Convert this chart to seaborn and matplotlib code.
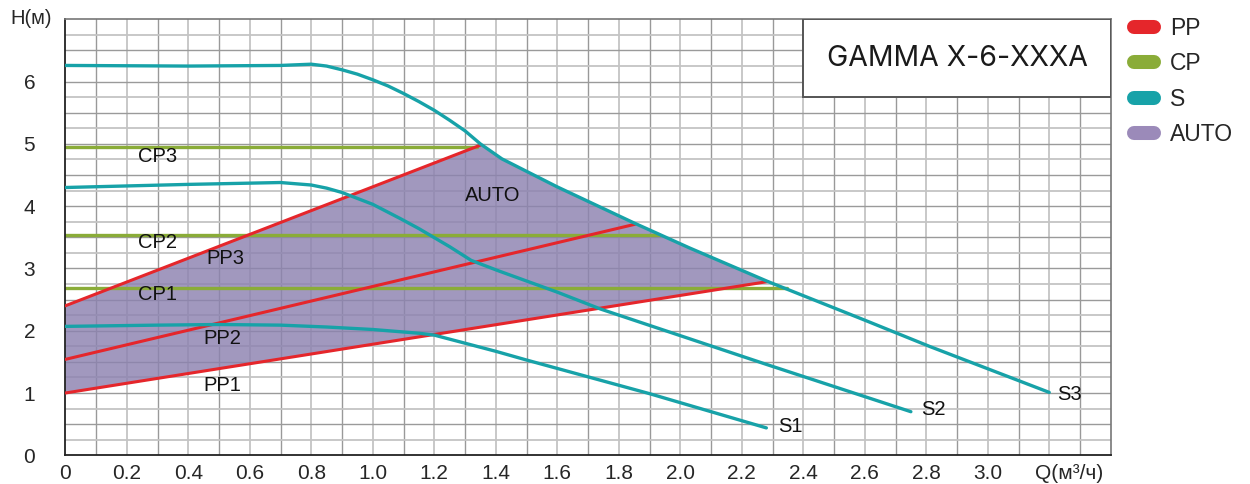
import numpy as np
import pandas as pd
import seaborn as sns
import matplotlib.pyplot as plt
from matplotlib.lines import Line2D
from matplotlib.patches import Rectangle
from matplotlib.ticker import MultipleLocator

# pump curves: Q (m3/h), H (m)
s1_q = [0, 0.3, 0.5, 0.7, 0.85, 1.0, 1.1, 1.15, 1.2, 1.3, 1.4, 1.5, 1.9, 2.28]
s1_h = [2.07, 2.09, 2.10, 2.09, 2.06, 2.02, 1.98, 1.96, 1.93, 1.80, 1.67, 1.53, 0.99, 0.44]
s2_q = [0, 0.4, 0.7, 0.8, 0.85, 0.9, 1.0, 1.09, 1.15, 1.25, 1.32, 1.41, 1.6, 1.74, 2.28, 2.75]
s2_h = [4.30, 4.35, 4.38, 4.34, 4.29, 4.22, 4.03, 3.80, 3.64, 3.35, 3.13, 2.96, 2.62, 2.35, 1.46, 0.70]
s3_q = [0, 0.4, 0.7, 0.75, 0.8, 0.85, 0.9, 0.95, 1.0, 1.05, 1.1, 1.15, 1.2, 1.25, 1.3,
        1.35, 1.42, 1.5, 1.6, 1.85, 2.03, 2.285, 2.6, 2.81, 3.2]
s3_h = [6.26, 6.25, 6.26, 6.27, 6.28, 6.25, 6.19, 6.12, 6.03, 5.93, 5.81, 5.68, 5.54, 5.38, 5.21,
        5.0, 4.76, 4.56, 4.31, 3.73, 3.33, 2.79, 2.17, 1.75, 1.01]

# proportional pressure lines (straight)
pp_names = ["PP1", "PP2", "PP3"]
pp_h0 = [1.0, 1.54, 2.40]
pp_q1 = [2.285, 1.853, 1.35]
pp_h1 = [2.79, 3.71, 4.98]

# constant pressure lines
cp_names = ["CP1", "CP2", "CP3"]
cp_h = [2.69, 3.53, 4.95]
cp_q1 = [2.347, 1.935, 1.338]

x_ticks = [0, 0.2, 0.4, 0.6, 0.8, 1.0, 1.2, 1.4, 1.6, 1.8, 2.0, 2.2, 2.4, 2.6, 2.8, 3.0, 3.265]
x_labels = ["0", "0.2", "0.4", "0.6", "0.8", "1.0", "1.2", "1.4", "1.6", "1.8",
            "2.0", "2.2", "2.4", "2.6", "2.8", "3.0", "Q(м³/ч)"]

RED = "#e5262b"
GREEN = "#8aac38"
TEAL = "#17a2a8"
PURPLE = "#8c82b0"

sns.set_style("white")
plt.rcParams["font.family"] = ["Liberation Sans", "DejaVu Sans"]

fig = plt.figure(figsize=(12.5, 4.84), dpi=100)
ax = fig.add_axes([0.0522, 0.0593, 0.8364, 0.9007])

# grid
for v in np.arange(0.1, 3.4, 0.1):
    even = round(v * 10) % 2 == 0
    ax.axvline(v, color="#c8c8c8" if even else "#999999", lw=1.4 if even else 1.0, zorder=0)
for v in np.arange(0.25, 7.0, 0.25):
    half = round(v * 4) % 2 == 0
    ax.axhline(v, color="#9a9a9a" if half else "#c4c4c4", lw=1.0 if half else 1.3, zorder=0)

# AUTO area
auto_q = [0, pp_q1[0]] + [q for q in s3_q[::-1] if 1.35 < q < 2.285] + [pp_q1[2], 0]
auto_h = [pp_h0[0], pp_h1[0]] + [h for q, h in zip(s3_q[::-1], s3_h[::-1]) if 1.35 < q < 2.285] + [pp_h1[2], pp_h0[2]]
ax.fill(auto_q, auto_h, color=PURPLE, alpha=0.82, lw=0, zorder=1)

for name, h, q1 in zip(cp_names, cp_h, cp_q1):
    sns.lineplot(x=[0, q1], y=[h, h], color=GREEN, lw=2.4, ax=ax, zorder=2)

for name, h0, q1, h1 in zip(pp_names, pp_h0, pp_q1, pp_h1):
    sns.lineplot(x=[0, q1], y=[h0, h1], color=RED, lw=2.2, ax=ax, zorder=3)

for q, h in [(s1_q, s1_h), (s2_q, s2_h), (s3_q, s3_h)]:
    df = pd.DataFrame({"Q": q, "H": h})
    sns.lineplot(data=df, x="Q", y="H", color=TEAL, lw=2.4, ax=ax, zorder=4,
                 estimator=None, sort=False)

labels = [("CP3", 0.30, 4.79), ("CP2", 0.30, 3.42), ("CP1", 0.30, 2.59),
          ("PP3", 0.52, 3.16), ("PP2", 0.51, 1.87), ("PP1", 0.51, 1.12),
          ("AUTO", 1.39, 4.17), ("S1", 2.357, 0.46), ("S2", 2.822, 0.73),
          ("S3", 3.265, 0.97)]
for txt, x, y in labels:
    ax.text(x, y, txt, fontsize=14.5, ha="center", va="center", color="#111111", zorder=5)

ax.set_xlim(0, 3.4)
ax.set_ylim(0, 7)
ax.set_xticks(x_ticks)
ax.set_xticklabels(x_labels)
ax.tick_params(axis="x", length=0, pad=6, labelsize=15)
ax.set_yticks(range(0, 7))
ax.yaxis.set_minor_locator(MultipleLocator(0.5))
ax.tick_params(axis="y", which="major", length=8.6, width=1.2, color="#222222", pad=13, labelsize=15)
ax.tick_params(axis="y", which="minor", length=3.8, width=1.0, color="#222222")
ax.set_xlabel("")
ax.set_ylabel("")

for side in ["left", "bottom"]:
    ax.spines[side].set_color("#222222")
    ax.spines[side].set_linewidth(1.3)
for side in ["top", "right"]:
    ax.spines[side].set_color("#777777")
    ax.spines[side].set_linewidth(1.2)

fig.text(31.5 / 1250, 1 - 19 / 484, "H(м)", fontsize=14.5, ha="center", va="center")

# model name box
ax.add_patch(Rectangle((0.706, 0.822), 0.294, 0.178, transform=ax.transAxes,
                       facecolor="white", edgecolor="#555555", lw=1.4, zorder=6))
ax.text(0.853, 0.911, "GAMMA X-6-XXXA", transform=ax.transAxes, fontsize=20.5,
        family="Inter", ha="center", va="center", color="#1a1a1a", zorder=7)

handles = [Line2D([], [], color=c, lw=10.1, solid_capstyle="round")
           for c in [RED, GREEN, TEAL, "#9b8ab9"]]
fig.legend(handles, ["PP", "CP", "S", "AUTO"], loc="upper left",
           bbox_to_anchor=(1133.6 / 1250, 1 - 17 / 484), frameon=False,
           fontsize=16.5, handlelength=0.87, handletextpad=0.71,
           labelspacing=0.54, borderpad=0, borderaxespad=0)

fig.savefig("out.png", dpi=100)
